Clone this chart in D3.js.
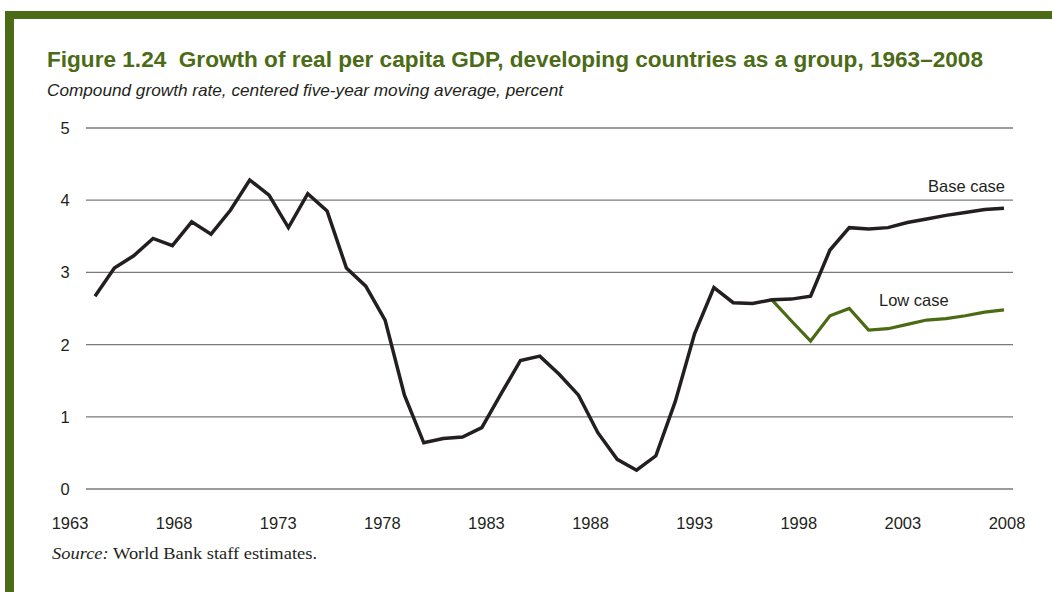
<!DOCTYPE html>
<html>
<head>
<meta charset="utf-8">
<script src="https://d3js.org/d3.v7.min.js"></script>
<style>
body {margin: 0; background: white;}
svg {display: block; font-family: "Liberation Sans", Arial, sans-serif;}
.grid line {stroke: #7a7a7a; stroke-width: 1.3px;}
.tick-label {font-size: 16.5px; fill: #231f20;}
</style>
</head>
<body>
<svg width="1052" height="592"></svg>
<script>
// x-axis labels
var tickYears = [1963, 1968, 1973, 1978, 1983, 1988, 1993, 1998, 2003, 2008];
var yTicks = [0, 1, 2, 3, 4, 5];

// centred five-year moving average, one value per plotted point
var baseCase = [2.67, 3.06, 3.23, 3.47, 3.37, 3.70, 3.53, 3.86, 4.28, 4.07,
                3.62, 4.09, 3.85, 3.06, 2.81, 2.34, 1.30, 0.64, 0.70, 0.72,
                0.85, 1.32, 1.78, 1.84, 1.59, 1.30, 0.78, 0.41, 0.26, 0.46,
                1.21, 2.15, 2.79, 2.58, 2.57, 2.62, 2.63, 2.67, 3.31, 3.62,
                3.60, 3.62, 3.69, 3.74, 3.79, 3.83, 3.87, 3.89];
var lowCase  = [null, null, null, null, null, null, null, null, null, null,
                null, null, null, null, null, null, null, null, null, null,
                null, null, null, null, null, null, null, null, null, null,
                null, null, null, null, null, 2.62, 2.33, 2.05, 2.40, 2.50,
                2.20, 2.22, 2.28, 2.34, 2.36, 2.40, 2.45, 2.48];

var svg = d3.select("svg");
var green = "#4b6b16";

// frame
svg.append("rect").attr("x", 5).attr("y", 11).attr("width", 1047).attr("height", 8).attr("fill", green);
svg.append("rect").attr("x", 5).attr("y", 11).attr("width", 9).attr("height", 581).attr("fill", green);

svg.append("text")
  .attr("x", 47).attr("y", 67)
  .attr("fill", green)
  .style("font-size", "22px").style("font-weight", "bold")
  .style("white-space", "pre")
  .attr("textLength", 936).attr("lengthAdjust", "spacingAndGlyphs")
  .text("Figure 1.24  Growth of real per capita GDP, developing countries as a group, 1963\u20132008");

svg.append("text")
  .attr("x", 47).attr("y", 96)
  .attr("fill", "#231f20")
  .style("font-size", "16.5px").style("font-style", "italic")
  .attr("textLength", 516).attr("lengthAdjust", "spacingAndGlyphs")
  .text("Compound growth rate, centered five-year moving average, percent");

var y = d3.scaleLinear().domain([0, 5]).range([489, 128]);
var xIdx = d3.scaleLinear().domain([0, baseCase.length - 1]).range([95, 1004]);
var xYear = d3.scaleLinear().domain([1963, 2008]).range([70, 1007]);

var grid = svg.append("g").attr("class", "grid");
grid.selectAll("line").data(yTicks).enter().append("line")
  .attr("x1", 86).attr("x2", 1013)
  .attr("y1", function(d) { return y(d); })
  .attr("y2", function(d) { return y(d); });

svg.selectAll(".ylab").data(yTicks).enter().append("text")
  .attr("class", "tick-label ylab")
  .attr("x", 65).attr("y", function(d) { return y(d) + 6; })
  .attr("text-anchor", "middle")
  .text(function(d) { return d; });

svg.selectAll(".xlab").data(tickYears).enter().append("text")
  .attr("class", "tick-label xlab")
  .attr("x", function(d) { return xYear(d); }).attr("y", 529)
  .attr("text-anchor", "middle")
  .text(function(d) { return d; });

var line = d3.line()
  .defined(function(d) { return d != null; })
  .x(function(d, i) { return xIdx(i); })
  .y(function(d) { return y(d); });

svg.append("path").datum(lowCase)
  .attr("d", line)
  .attr("fill", "none").attr("stroke", "#4a6b14").attr("stroke-width", 3.2)
  .attr("stroke-linejoin", "miter");

svg.append("path").datum(baseCase)
  .attr("d", line)
  .attr("fill", "none").attr("stroke", "#231f20").attr("stroke-width", 3.5)
  .attr("stroke-linejoin", "miter");

svg.append("text").attr("class", "tick-label")
  .attr("x", 1005).attr("y", 192).attr("text-anchor", "end")
  .text("Base case");
svg.append("text").attr("class", "tick-label")
  .attr("x", 879).attr("y", 306)
  .text("Low case");

var src = svg.append("text")
  .attr("x", 52).attr("y", 559)
  .attr("fill", "#231f20")
  .style("font-family", "'Liberation Serif', 'Times New Roman', serif")
  .style("font-size", "17px")
  .attr("textLength", 265).attr("lengthAdjust", "spacingAndGlyphs");
src.append("tspan").style("font-style", "italic").text("Source:");
src.append("tspan").text(" World Bank staff estimates.");
</script>
</body>
</html>
